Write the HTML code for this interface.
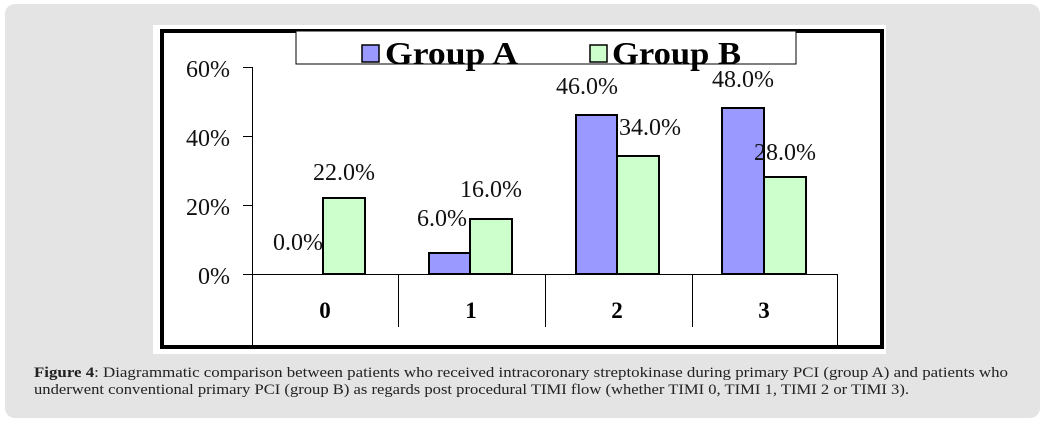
<!DOCTYPE html>
<html><head><style>
html,body{margin:0;padding:0;background:#fff;}
body{width:1046px;height:424px;position:relative;overflow:hidden;}
.box{position:absolute;left:5px;top:4px;width:1035px;height:414px;background:#e4e4e4;border-radius:10px;}
svg{position:absolute;left:0;top:0;}
</style></head><body>
<div class="box"></div>
<svg width="1046" height="424" font-family="Liberation Serif, serif">
<rect x="153" y="25" width="733" height="329" fill="#fff"/>
<rect x="162" y="31" width="720" height="316" fill="none" stroke="#000" stroke-width="4"/>
<!-- legend -->
<rect x="296" y="31" width="500" height="33" fill="#fff" stroke="#000" stroke-width="1"/>
<rect x="362" y="45" width="17" height="17" fill="#9999ff" stroke="#000" stroke-width="1.5"/>
<text x="385" y="64" font-size="32" font-weight="bold" textLength="133" lengthAdjust="spacingAndGlyphs">Group A</text>
<rect x="590" y="45" width="17" height="17" fill="#ccffcc" stroke="#000" stroke-width="1.5"/>
<text x="612" y="64" font-size="32" font-weight="bold" textLength="129" lengthAdjust="spacingAndGlyphs">Group B</text>
<!-- axis -->
<g stroke="#000" stroke-width="1">
<line x1="252.5" y1="67" x2="252.5" y2="347"/>
<line x1="243" y1="67.5" x2="252" y2="67.5"/>
<line x1="243" y1="136.5" x2="252" y2="136.5"/>
<line x1="243" y1="205.5" x2="252" y2="205.5"/>
<line x1="243" y1="274.5" x2="838" y2="274.5"/>
<line x1="398.5" y1="274" x2="398.5" y2="327"/>
<line x1="545.5" y1="274" x2="545.5" y2="327"/>
<line x1="692.5" y1="274" x2="692.5" y2="327"/>
<line x1="837.5" y1="274" x2="837.5" y2="347"/>
</g>
<g font-size="24" text-anchor="end" fill="#111">
<text x="230" y="77">60%</text><text x="230" y="146">40%</text>
<text x="230" y="215">20%</text><text x="230" y="284">0%</text>
</g>
<g font-size="23" font-weight="bold" text-anchor="middle">
<text x="325" y="318">0</text><text x="471" y="318">1</text>
<text x="617" y="318">2</text><text x="764" y="318">3</text>
</g>
<!-- bars -->
<g stroke="#000" stroke-width="2">
<rect x="323" y="198" width="42" height="76" fill="#ccffcc"/>
<rect x="429" y="253" width="41" height="21" fill="#9999ff"/>
<rect x="470" y="219" width="42" height="55" fill="#ccffcc"/>
<rect x="576" y="115" width="41" height="159" fill="#9999ff"/>
<rect x="617" y="156" width="42" height="118" fill="#ccffcc"/>
<rect x="722" y="108" width="42" height="166" fill="#9999ff"/>
<rect x="764" y="177" width="42" height="97" fill="#ccffcc"/>
</g>
<g font-size="24" text-anchor="middle" fill="#111">
<text x="298" y="250">0.0%</text>
<text x="344" y="180">22.0%</text>
<text x="442" y="226">6.0%</text>
<text x="491" y="197">16.0%</text>
<text x="587" y="94">46.0%</text>
<text x="650" y="135">34.0%</text>
<text x="743" y="87">48.0%</text>
<text x="785" y="160">28.0%</text>
</g>
<g font-size="15" fill="#222">
<text x="34" y="377" textLength="974" lengthAdjust="spacingAndGlyphs"><tspan font-weight="bold">Figure 4</tspan>: Diagrammatic comparison between patients who received intracoronary streptokinase during primary PCI (group A) and patients who</text>
<text x="34" y="394" textLength="875" lengthAdjust="spacingAndGlyphs">underwent conventional primary PCI (group B) as regards post procedural TIMI flow (whether TIMI 0, TIMI 1, TIMI 2 or TIMI 3).</text>
</g>
</svg>
</body></html>
